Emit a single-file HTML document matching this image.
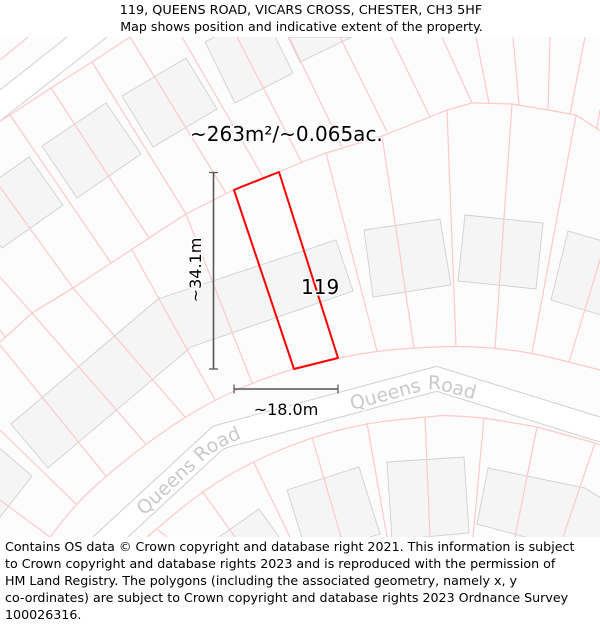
<!DOCTYPE html>
<html lang="en">
<head>
<meta charset="utf-8">
<title>119, Queens Road map</title>
<style>
html,body{margin:0;padding:0;background:#fff;width:600px;height:625px;overflow:hidden}
svg{display:block}
text{font-family:"DejaVu Sans","Liberation Sans",sans-serif}
.plot{fill:none;stroke:#ffc9c9;stroke-width:1.2}
.bld{fill:#f5f5f5;stroke:#d0d0d0;stroke-width:.9}
.rd{fill:none;stroke:#cfcfcf;stroke-width:1}
.halo{paint-order:stroke;stroke:#fff;stroke-width:3px;stroke-linejoin:round}
</style>
</head>
<body>
<svg xmlns="http://www.w3.org/2000/svg" width="600" height="625" viewBox="0 0 600 625">
<defs>
<clipPath id="mapclip"><rect x="0" y="37" width="600" height="500"/></clipPath>
<path id="road-path-a" d="M144,516 L206,458 Q220,446 245,437"/>
<path id="road-path-b" d="M352,410 L422,391 Q431,388 440,390 L480,401"/>
</defs>
<text x="301" y="14" text-anchor="middle" font-size="12.8">119, QUEENS ROAD, VICARS CROSS, CHESTER, CH3 5HF</text>
<text x="301.5" y="31" text-anchor="middle" font-size="12.62">Map shows position and indicative extent of the property.</text>

<g clip-path="url(#mapclip)">
<rect x="0" y="37" width="600" height="500" fill="#fcfcfc"/>
<polygon points="0,90 67,37 107,37 0,121" fill="#fff"/>
<polygon points="93,537 213,426 438,367 600,417 600,442 438,392 225,448 128,537" fill="#fff"/>

<g>
<polygon class="bld" points="205,42 263,12 293,73 235,103"/>
<polygon class="bld" points="122,96 186,58 217,109 153,147"/>
<polygon class="bld" points="42,146 106,103 141,154 77,198"/>
<polygon class="bld" points="29,157 63,205 2,248 -32,200"/>
<polygon class="bld" points="288,37 352,37 300,62"/>
<polygon class="bld" points="11,424 158,299 336,240 353,291 191,347 48,468"/>
<polygon class="bld" points="364,230 440,219 451,285 373,297"/>
<polygon class="bld" points="465,215 543,223 536,289 458,281"/>
<polygon class="bld" points="568,231 620,246 604,316 551,300"/>
<polygon class="bld" points="-10,440 32,476 -10,530"/>
<polygon class="bld" points="219,537 259,509 279,537 270,560 230,560"/>
<polygon class="bld" points="287,490 359,467 380,534 345,545 308,557"/>
<polygon class="bld" points="387,462 464,457 469,533 392,540"/>
<polygon class="bld" points="488,468 585,488 620,510 610,560 477,524"/>
</g>

<g>
<path class="rd" d="M0,90 L67,37"/>
<path class="rd" d="M0,121 L10,113 L107,37"/>
<path class="rd" d="M93,537 L210,429 Q213,426 217,425 L434,367 Q438,366 442,368 L600,417"/>
<path class="rd" d="M128,537 L222,450 Q225,448 229,447 L434,392 Q438,391 442,393 L600,442"/>
</g>

<g>
<path class="plot" d="M0,60 L28,37"/>
<path class="plot" d="M0,121 L10,115 L51,88 L92,62 L130,37"/>
<path class="plot" d="M0,342 L32,313 L73,288 L111,263 L149,238 L186,214 L233,190 L241,187 L279,172 L300,163 L326,153 L382,136 L430,117 L447,110 L472,103 L476,103 L512,104 L548,110 L576,115 L596,128 L600,131"/>
<path class="plot" d="M50,537 L63,520.5 Q76,504 91,490 Q106,476 126,460 Q146,444 165.5,430.5 Q185,417 200,408.5 Q215,400 233.5,391.5 Q252,383 273.5,375.5 Q295,368 316.5,363 Q338,358 357.5,354.5 Q377,351 395.5,349.5 Q414,348 435,347 Q456,346 475.5,347 Q495,348 513.5,350.5 Q532,353 550.5,357.5 Q569,362 584.5,366 L600,370"/>
<path class="plot" d="M147,537 L174.5,514 Q202,491 227.5,476 Q253,461 282.5,449 Q312,437 339.5,430 Q367,423 396,420 Q425,417 443,415.5 Q463,416 483,418 Q510,422 537,427 Q566,435 595,443 L600,445"/>

<path class="plot" d="M10,115 L111,263"/>
<path class="plot" d="M51,88 L149,238"/>
<path class="plot" d="M92,62 L186,214"/>
<path class="plot" d="M130,37 L226,193"/>
<path class="plot" d="M182,37 L263,177"/>
<path class="plot" d="M237,37 L302,163"/>
<path class="plot" d="M289,37 L342,147"/>
<path class="plot" d="M340,37 L387,132"/>
<path class="plot" d="M391,37 L430,117"/>
<path class="plot" d="M442,37 L472,103"/>
<path class="plot" d="M476,37 L489,103"/>
<path class="plot" d="M513,37 L519,105"/>
<path class="plot" d="M550,37 L548,110"/>
<path class="plot" d="M585,37 L570,114"/>
<path class="plot" d="M600,110 L597,128"/>

<path class="plot" d="M326,153 L377,351"/>
<path class="plot" d="M382,136 L414,348"/>
<path class="plot" d="M447,110 L456,346"/>
<path class="plot" d="M512,104 L495,348"/>
<path class="plot" d="M576,115 L532,353"/>
<path class="plot" d="M606,240 L569,362"/>

<path class="plot" d="M0,187 L73,288 L32,313"/>
<path class="plot" d="M0,277 L32,313 L146,444"/>
<path class="plot" d="M73,288 L185,417"/>
<path class="plot" d="M132,250 L215,400"/>
<path class="plot" d="M186,214 L252,383"/>
<path class="plot" d="M0,345 L106,476"/>
<path class="plot" d="M0,330 L5,337"/>
<path class="plot" d="M0,430 L76,504"/>
<path class="plot" d="M0,500 L50,537"/>

<path class="plot" d="M157,529 L167,537"/>
<path class="plot" d="M202,491 L235,537"/>
<path class="plot" d="M253,461 L290,537"/>
<path class="plot" d="M312,437 L341,537"/>
<path class="plot" d="M367,423 L387,537"/>
<path class="plot" d="M425,417 L430,537"/>
<path class="plot" d="M484,418 L473,537"/>
<path class="plot" d="M537,427 L515,537"/>
<path class="plot" d="M595,443 L563,537"/>
</g>

<text font-size="19" fill="#c9c9c9" class="halo"><textPath href="#road-path-a">Queens Road</textPath></text>
<text font-size="19" fill="#c9c9c9" class="halo"><textPath href="#road-path-b">Queens Road</textPath></text>

<polygon points="234,190 241,187 279,172 338,358 294,369" fill="none" stroke="#ff0000" stroke-width="2" stroke-linejoin="round"/>

<g fill="none" stroke="#555">
<path d="M213.5,172 V369" stroke-width="1.6"/>
<path d="M209,172.5 H218 M209,369 H218" stroke-width="1.2"/>
</g>
<g fill="none" stroke="#555">
<path d="M234,389 H338" stroke-width="1.6"/>
<path d="M234,384.5 V393.5 M338,384.5 V393.5" stroke-width="1.2"/>
</g>

<text x="190" y="141" font-size="20" class="halo">~263m²/~0.065ac.</text>
<text x="301" y="294" font-size="20" class="halo">119</text>
<text x="286" y="415" font-size="16" text-anchor="middle" class="halo">~18.0m</text>
<text transform="translate(201,270) rotate(-90)" font-size="16" text-anchor="middle" class="halo">~34.1m</text>
</g>

<g font-size="12.65" fill="#000">
<text x="5" y="551">Contains OS data © Crown copyright and database right 2021. This information is subject</text>
<text x="5" y="568">to Crown copyright and database rights 2023 and is reproduced with the permission of</text>
<text x="5" y="585">HM Land Registry. The polygons (including the associated geometry, namely x, y</text>
<text x="5" y="602">co-ordinates) are subject to Crown copyright and database rights 2023 Ordnance Survey</text>
<text x="5" y="619">100026316.</text>
</g>
</svg>
</body>
</html>
